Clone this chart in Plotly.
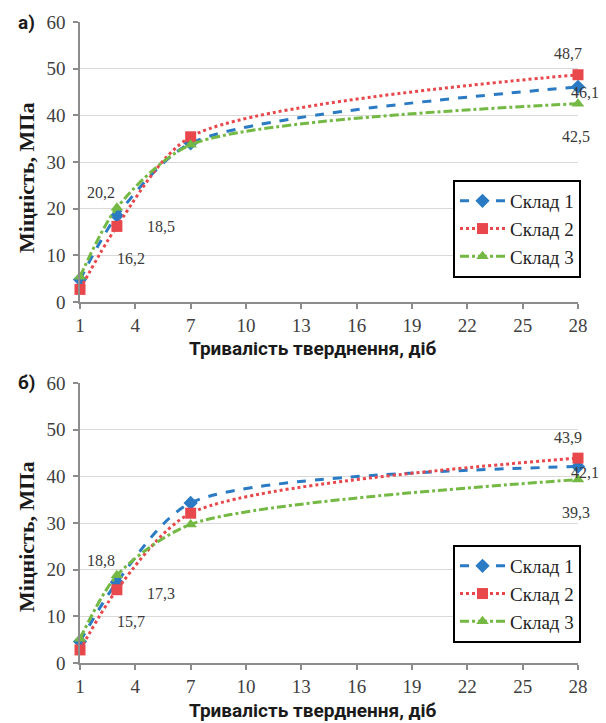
import plotly.graph_objects as go

# ---------------- data ----------------
days = [1, 3, 7, 28]
series_names = ["Склад 1", "Склад 2", "Склад 3"]

a_sklad1 = [4.8, 18.5, 34.0, 46.1]
a_sklad2 = [2.7, 16.2, 35.4, 48.7]
a_sklad3 = [5.4, 20.2, 33.7, 42.5]

b_sklad1 = [4.6, 17.3, 34.3, 42.1]
b_sklad2 = [2.8, 15.7, 32.1, 43.9]
b_sklad3 = [5.2, 18.8, 29.7, 39.3]

x_ticks = [1, 4, 7, 10, 13, 16, 19, 22, 25, 28]
y_ticks = [0, 10, 20, 30, 40, 50, 60]

panel_labels = ["а)", "б)"]
y_title = "Міцність, МПа"
x_title = "Тривалість тверднення, діб"

# labelled points: (series index, point index)
labelled = [(2, 1), (0, 1), (1, 1), (1, 3), (0, 3), (2, 3)]

# ---------------- styles ----------------
colors = ["#2a7bc4", "#e8474b", "#74b943"]
dashes = ["dash", "dot", "dashdot"]
symbols = ["diamond", "square", "triangle-up"]
msizes = [11, 11, 11]
label_shift = [(-16, 15), (44, -11), (14, -32), (-10, 21), (7, -6), (-2, -33)]

serif = "Liberation Serif, Times New Roman, serif"
sans = "Roboto, Open Sans, sans-serif"

# plot-area geometry in pixels
L, R, T, B = 80, 578, 22, 663
W, H = R - L, B - T

def px_x(px):
    return (px - L) / W

def px_y(py):
    return (B - py) / H

fig = go.Figure()

panels = [
    ([a_sklad1, a_sklad2, a_sklad3], "x", "y", "legend"),
    ([b_sklad1, b_sklad2, b_sklad3], "x2", "y2", "legend2"),
]

for p, (vals, xa, ya, lg) in enumerate(panels):
    for i, v in enumerate(vals):
        fig.add_trace(go.Scatter(
            x=days, y=v, name=series_names[i], mode="lines+markers",
            line=dict(color=colors[i], width=3, dash=dashes[i], shape="spline", smoothing=0.75),
            marker=dict(symbol=symbols[i], size=msizes[i], color=colors[i]),
            xaxis=xa, yaxis=ya, legend=lg, cliponaxis=False,
        ))
    for k, (si, pi) in enumerate(labelled):
        fig.add_annotation(
            x=days[pi], y=vals[si][pi], xref=xa, yref=ya,
            text=f"{vals[si][pi]:.1f}".replace(".", ","),
            showarrow=False, xshift=label_shift[k][0], yshift=label_shift[k][1],
            font=dict(family=serif, size=16, color="#3a3a3a"),
        )

axis_common = dict(
    showline=True, linecolor="#8c8c8c", linewidth=1.5,
    ticks="outside", ticklen=5, tickcolor="#8c8c8c", tickwidth=1.5,
    tickfont=dict(family=serif, size=19, color="#404040"),
)

legend_common = dict(
    xanchor="left", yanchor="top", bordercolor="black", borderwidth=2, bgcolor="white",
    font=dict(family=serif, size=19, color="#222222"), tracegroupgap=0, itemwidth=45,
)

fig.update_layout(
    width=606, height=723,
    margin=dict(l=L, r=606 - R, t=T, b=723 - B),
    paper_bgcolor="white", plot_bgcolor="white",
    showlegend=True,
    xaxis=dict(domain=[0, 1], range=[1, 28], tickvals=x_ticks, anchor="y",
               showgrid=False, zeroline=False, ticklabelstandoff=0, **axis_common),
    xaxis2=dict(domain=[0, 1], range=[1, 28], tickvals=x_ticks, anchor="y2",
                showgrid=False, zeroline=False, ticklabelstandoff=0, **axis_common),
    yaxis=dict(domain=[px_y(302), 1.0], range=[0, 60], tickvals=y_ticks, anchor="x",
               showgrid=True, gridcolor="#d9d9d9", gridwidth=1, zeroline=False,
               ticklabelstandoff=4, **axis_common),
    yaxis2=dict(domain=[0.0, px_y(383)], range=[0, 60], tickvals=y_ticks, anchor="x2",
                showgrid=True, gridcolor="#d9d9d9", gridwidth=1, zeroline=False,
                ticklabelstandoff=4, **axis_common),
    legend=dict(x=px_x(453), y=px_y(180), **legend_common),
    legend2=dict(x=px_x(453), y=px_y(545), **legend_common),
)

for lbl, ypx in zip(panel_labels, [22, 383]):
    fig.add_annotation(x=px_x(26.5), y=px_y(ypx), xref="paper", yref="paper", text=f"<b>{lbl}</b>",
                       xanchor="center", yanchor="middle",
                       showarrow=False, font=dict(family=sans, size=19, color="#1a1a1a"))
for ty, xy in zip([178, 537], [348, 710]):
    fig.add_annotation(x=px_x(26), y=px_y(ty), xref="paper", yref="paper",
                       xanchor="center", yanchor="middle",
                       text=f"<b>{y_title}</b>", textangle=-90, showarrow=False,
                       font=dict(family=serif, size=22, color="#1a1a1a"))
    fig.add_annotation(x=px_x(313), y=px_y(xy), xref="paper", yref="paper",
                       xanchor="center", yanchor="middle",
                       text=f"<b>{x_title}</b>", showarrow=False,
                       font=dict(family=sans, size=19, color="#1a1a1a"))

fig.write_html("out.html", config={"displayModeBar": False},
               post_script="document.body.style.margin='0';")
